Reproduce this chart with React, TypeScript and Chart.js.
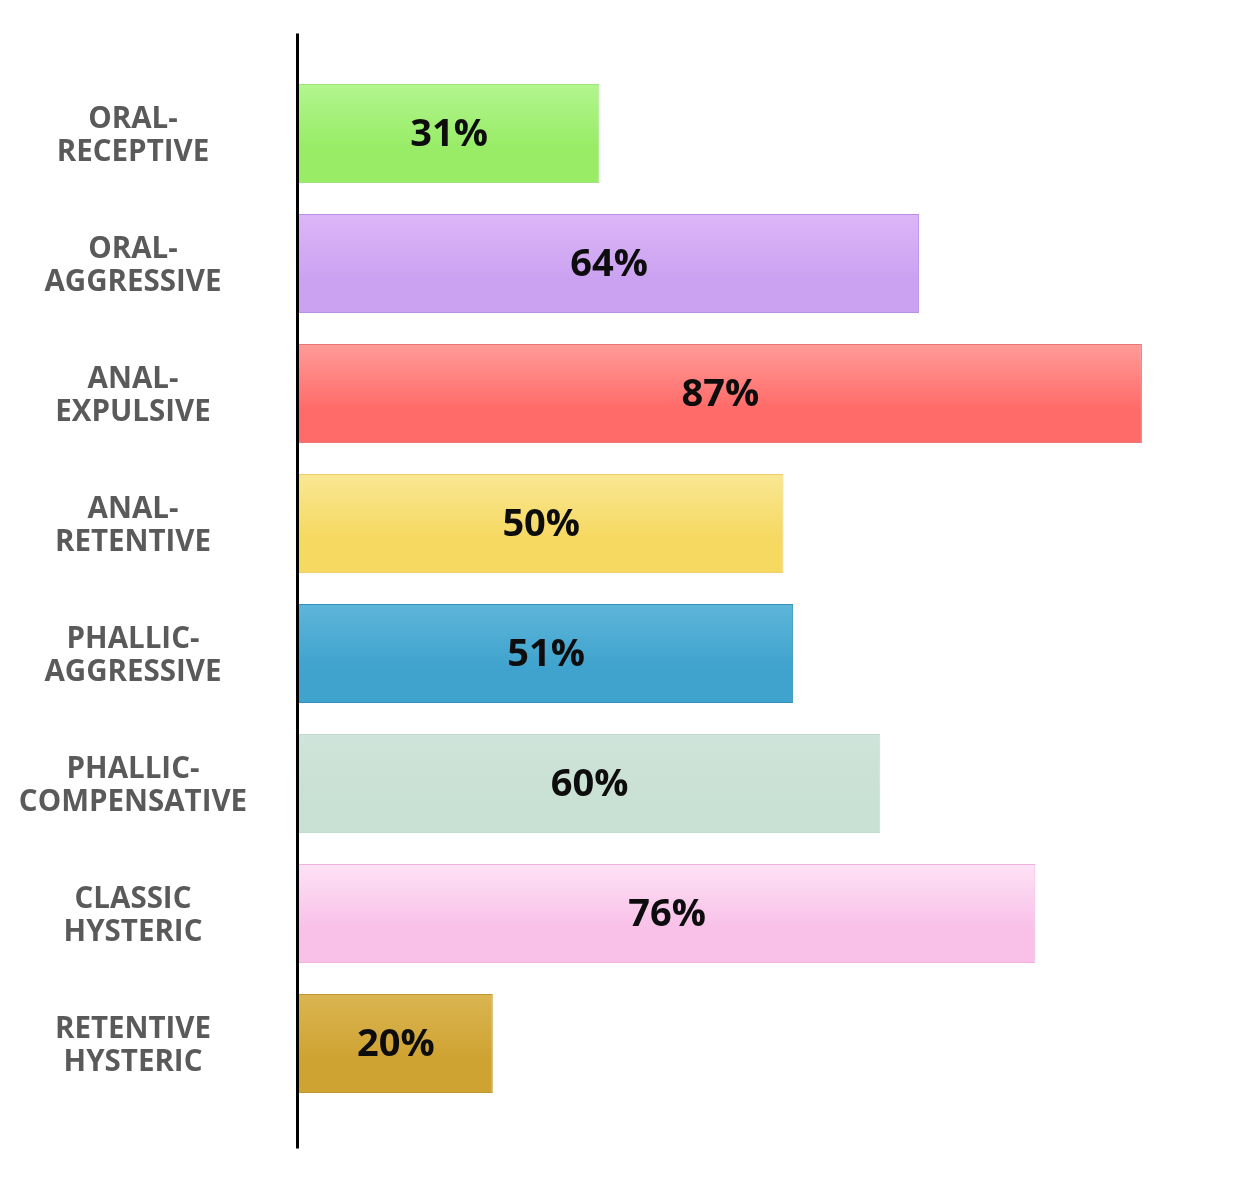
import React, { useEffect, useRef } from "react";
import { Chart, registerables } from "chart.js";

Chart.register(...registerables);

const categories: string[][] = [
  ["ORAL-", "RECEPTIVE"],
  ["ORAL-", "AGGRESSIVE"],
  ["ANAL-", "EXPULSIVE"],
  ["ANAL-", "RETENTIVE"],
  ["PHALLIC-", "AGGRESSIVE"],
  ["PHALLIC-", "COMPENSATIVE"],
  ["CLASSIC", "HYSTERIC"],
  ["RETENTIVE", "HYSTERIC"],
];
const values: number[] = [31, 64, 87, 50, 51, 60, 76, 20];
const valueLabels: string[] = values.map((v) => v + "%");

const topColors = ["#b2f68f", "#dcb6f8", "#ff9c99", "#f9e793", "#5eb5da", "#cfe4da", "#fde2f5", "#dab552"];
const bottomColors = ["#98ec66", "#cba2f1", "#ff6b69", "#f6d961", "#3fa3cd", "#c9e0d4", "#f9c0e8", "#cfa332"];
const borderColors = ["#a2e27e", "#bb8ee8", "#ea7573", "#ebcd6a", "#3090be", "#c3dbcd", "#f0b0e0", "#c3972d"];

const LABEL_SIZE = 29.5;
const LABEL_FONT = `bold ${LABEL_SIZE}px 'Open Sans'`;
const BAR_FRACTION = 0.762;

export default function App() {
  const ref = useRef<HTMLCanvasElement | null>(null);

  useEffect(() => {
    if (!ref.current) return;
    const measure = document.createElement("canvas").getContext("2d")!;
    measure.font = LABEL_FONT;
    let widest = 0;
    categories.forEach((c) => c.forEach((l) => (widest = Math.max(widest, measure.measureText(l).width))));
    const axisWidth = 299;
    const labelCenter = 133;
    const tickPadding = axisWidth - labelCenter - widest / 2;

    const axisLine = {
      id: "axisLine",
      afterDraw(chart: any) {
        const { ctx, chartArea } = chart;
        ctx.save();
        ctx.strokeStyle = "#000";
        ctx.lineWidth = 3;
        ctx.beginPath();
        ctx.moveTo(chartArea.left - 1.5, chartArea.top - 35);
        ctx.lineTo(chartArea.left - 1.5, chartArea.bottom + 40);
        ctx.stroke();
        ctx.restore();
      },
    };

    const valueText = {
      id: "valueText",
      afterDatasetsDraw(chart: any) {
        const { ctx } = chart;
        const meta = chart.getDatasetMeta(0);
        ctx.save();
        ctx.font = "bold 38px 'Open Sans'";
        ctx.fillStyle = "#0d0d0d";
        ctx.textAlign = "center";
        ctx.textBaseline = "middle";
        meta.data.forEach((bar: any, i: number) => {
          ctx.fillText(valueLabels[i], (bar.x + bar.base) / 2, bar.y + 2);
        });
        ctx.restore();
      },
    };

    const gradientFor = (ctx: any) => {
      const chart = ctx.chart;
      const i = ctx.dataIndex;
      const y = chart.scales?.y;
      if (!chart.chartArea || !y || i === undefined) return bottomColors[i ?? 0];
      const center = y.getPixelForValue(i);
      const half = (y.height / categories.length) * BAR_FRACTION / 2;
      const g = chart.ctx.createLinearGradient(0, center - half, 0, center + half);
      g.addColorStop(0, topColors[i]);
      g.addColorStop(0.65, bottomColors[i]);
      g.addColorStop(1, bottomColors[i]);
      return g;
    };

    const chart = new Chart(ref.current, {
      type: "bar",
      data: {
        labels: categories,
        datasets: [
          {
            data: values,
            backgroundColor: gradientFor,
            borderColor: borderColors,
            borderWidth: 1,
            borderSkipped: "start",
            barPercentage: BAR_FRACTION,
            categoryPercentage: 1,
          },
        ],
      },
      options: {
        indexAxis: "y",
        responsive: false,
        animation: false,
        devicePixelRatio: 1,
        layout: { padding: { top: 68.5, bottom: 83.5, left: 0, right: 81 } },
        plugins: { legend: { display: false }, tooltip: { enabled: false } },
        scales: {
          x: { display: false, min: 0, max: 90 },
          y: {
            grid: { display: false, drawTicks: false },
            border: { display: false },
            afterFit(scale: any) {
              scale.width = axisWidth;
              scale.paddingTop = 0;
              scale.paddingBottom = 0;
            },
            ticks: {
              crossAlign: "center",
              padding: tickPadding,
              labelOffset: 3,
              color: "#5a5a5a",
              font: { family: "'Open Sans'", size: LABEL_SIZE, weight: "bold", lineHeight: 33 / LABEL_SIZE },
            },
          },
        },
      },
      plugins: [axisLine, valueText],
    } as any);
    return () => chart.destroy();
  }, []);

  return (
    <div style={{ position: "absolute", left: 0, top: 0, width: 1252, height: 1192, background: "#fff" }}>
      <canvas ref={ref} width={1252} height={1192} />
    </div>
  );
}
